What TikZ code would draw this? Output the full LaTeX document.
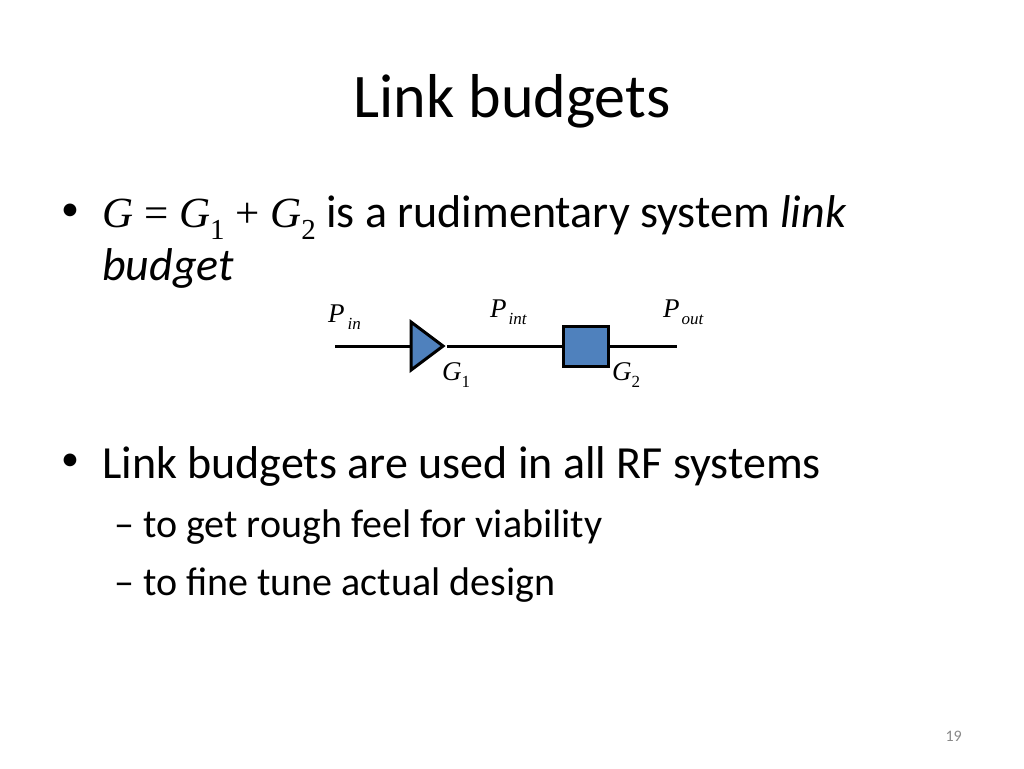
\documentclass[tikz,border=0pt]{standalone}
\usepackage{fontspec}
\setmainfont{Carlito}
\newfontfamily\tms{Liberation Serif}
\usetikzlibrary{shapes.geometric,positioning}
\definecolor{blkblue}{HTML}{4F81BD}
\definecolor{numgray}{HTML}{898989}
\newcommand\lowsub[2]{\raisebox{-0.28em}{\fontsize{#1}{#1}\selectfont #2}}

\begin{document}
\begin{tikzpicture}[x=1pt, y=-1pt,
  txt/.style={anchor=base west, inner sep=0pt, font=\fontsize{46}{46}\selectfont},
  sub/.style={anchor=base west, inner sep=0pt, font=\fontsize{40}{40}\selectfont},
  dot/.style={anchor=center, inner sep=0pt, font=\fontsize{36}{36}\selectfont},
  lbl/.style={anchor=base west, inner sep=0pt, font=\tms\itshape\fontsize{27}{27}\selectfont},
  blk/.style={draw, fill=blkblue, line width=3pt, inner sep=0pt}]
\useasboundingbox[fill=white] (0,0) rectangle (1024,768);

\node[anchor=base, inner sep=0pt, font=\fontsize{62}{62}\selectfont] (title) at (512,117) {Link budgets};

% first bullet
\node[dot] (dot1) at (70,212) {•};
\node[txt] (line1) at (102,227) {{\tms\fontsize{43}{43}\selectfont\itshape G \upshape= \itshape G\lowsub{29}{\upshape 1} \upshape+ \itshape G\lowsub{29}{\upshape 2}} is a rudimentary system \textit{link}};
\node[txt] (line1b) at (102,280) {\textit{budget}};

% amplifier chain
\coordinate (pin) at (335,346);
\node[blk, isosceles triangle, isosceles triangle stretches, minimum width=48, minimum height=32, anchor=apex] (amp) at (447,346) {};
\node[blk, minimum width=45, minimum height=40, anchor=west] (att) at (562,346) {};
\coordinate (pout) at (677,346);

\draw[line width=3pt] (pin) -- (amp) (amp.apex) -- (att) (att) -- (pout);

\node[lbl] (lin) at (328,322) {P\hspace{3pt}\lowsub{17}{in}};
\node[lbl] (lint) at (490,317) {P\hspace{2pt}\lowsub{17}{int}};
\node[lbl] (lout) at (663,317) {P\hspace{2pt}\lowsub{17}{out}};
\node[lbl] (lg1) at (442,380) {G\lowsub{17}{\upshape 1}};
\node[lbl] (lg2) at (612,380) {G\lowsub{17}{\upshape 2}};

% second bullet
\node[dot] (dot2) at (70,462) {•};
\node[txt] (line2) at (102,478) {Link budgets are used in all RF systems};
\node[sub] (sub1) at (114,537) {– to get rough feel for viability};
\node[sub] (sub2) at (114,595) {– to fine tune actual design};

\node[anchor=base east, inner sep=0pt, text=numgray, font=\fontsize{16}{16}\selectfont] (num) at (962,741) {19};
\end{tikzpicture}
\end{document}
